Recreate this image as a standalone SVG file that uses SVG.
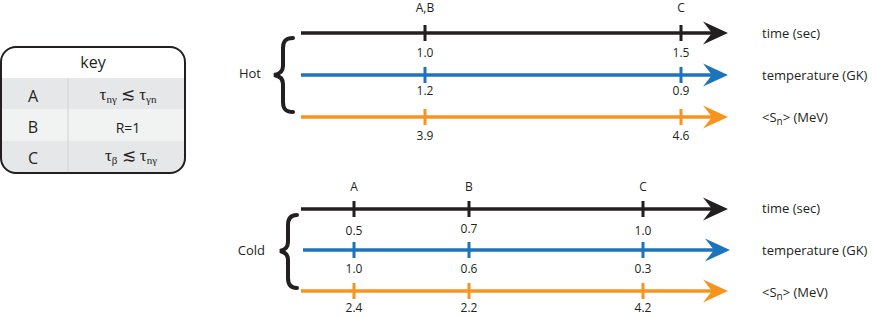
<svg xmlns="http://www.w3.org/2000/svg" width="872" height="317" viewBox="0 0 872 317">
<style>
.t{font-family:"Open Sans","Liberation Sans",sans-serif;fill:#231f20}
.v{font-size:12px;text-anchor:middle}
.l{font-size:12px;text-anchor:middle}
.r{font-size:13px}
.m{font-family:"Liberation Serif","DejaVu Serif",serif;font-size:17px;fill:#231f20;text-anchor:middle}
.k{stroke-width:3.5;fill:none}
.bk{stroke:#231f20}.bl{stroke:#1c75bc}.or{stroke:#f7941d}
.tk{stroke-width:3}
.br{fill:none;stroke:#231f20;stroke-width:4;stroke-linecap:round}
</style>
<defs>
<marker id="aK" viewBox="-13 -12 27 24" refX="0" refY="0" markerWidth="27" markerHeight="24" markerUnits="userSpaceOnUse" orient="auto"><path d="M-12,-11.5 L13,0 L-12,11.5 L-3,0 Z" fill="#231f20"/></marker>
<marker id="aB" viewBox="-13 -12 27 24" refX="0" refY="0" markerWidth="27" markerHeight="24" markerUnits="userSpaceOnUse" orient="auto"><path d="M-12,-11.5 L13,0 L-12,11.5 L-3,0 Z" fill="#1c75bc"/></marker>
<marker id="aO" viewBox="-13 -12 27 24" refX="0" refY="0" markerWidth="27" markerHeight="24" markerUnits="userSpaceOnUse" orient="auto"><path d="M-12,-11.5 L13,0 L-12,11.5 L-3,0 Z" fill="#f7941d"/></marker>
<clipPath id="kc"><rect x="1" y="47" width="184" height="126" rx="15"/></clipPath>
</defs>

<g id="key">
<g clip-path="url(#kc)">
<rect x="1" y="47" width="184" height="126" fill="#fff"/>
<rect x="1" y="78" width="184" height="31" fill="#e6e7e8"/>
<rect x="1" y="109" width="184" height="32" fill="#f1f2f2"/>
<rect x="1" y="141" width="184" height="32" fill="#e6e7e8"/>
<line x1="68" y1="78" x2="68" y2="173" stroke="#d1d3d4" stroke-width="1"/>
</g>
<rect x="1" y="47" width="184" height="126" rx="15" fill="none" stroke="#231f20" stroke-width="2"/>
<text class="t" x="93" y="68" font-size="16" text-anchor="middle">key</text>
<text class="t" x="33" y="102" font-size="16" text-anchor="middle">A</text>
<text class="t" x="33" y="133" font-size="16" text-anchor="middle">B</text>
<text class="t" x="33" y="164" font-size="16" text-anchor="middle">C</text>
<text class="m" x="128" y="100">τ<tspan font-size="11" dy="3">nγ</tspan><tspan dy="-3"> ≲ τ</tspan><tspan font-size="11" dy="3">γn</tspan></text>
<text class="t" x="128" y="133" font-size="14" text-anchor="middle">R=1</text>
<text class="m" x="131" y="161">τ<tspan font-size="11" dy="3">β</tspan><tspan dy="-3"> ≲ τ</tspan><tspan font-size="11" dy="3">nγ</tspan></text>
</g>

<g id="hot">
<text class="t" x="261" y="78" font-size="13" text-anchor="end">Hot</text>
<path class="br" d="M293,38 C285,38 283,42 283,48 L283,66 C283,71 280,74 274,75 C280,76 283,79 283,84 L283,102 C283,108 285,112 293,112"/>
</g>

<g id="cold">
<text class="t" x="265" y="255" font-size="13" text-anchor="end">Cold</text>
<path class="br" d="M297,215 C290,215 288,219 288,225 L288,242 C288,247 285,250 280,251 C285,252 288,255 288,260 L288,278 C288,284 290,288 297,288"/>
</g>

<g id="connectors">
<line class="k bk" x1="301" y1="33" x2="715" y2="33" marker-end="url(#aK)"/>
<line class="k bl" x1="301" y1="75" x2="715" y2="75" marker-end="url(#aB)"/>
<line class="k or" x1="301" y1="117" x2="715" y2="117" marker-end="url(#aO)"/>
<line class="k bk" x1="301" y1="209" x2="715" y2="209" marker-end="url(#aK)"/>
<line class="k bl" x1="303" y1="250" x2="717" y2="250" marker-end="url(#aB)"/>
<line class="k or" x1="301" y1="291" x2="715" y2="291" marker-end="url(#aO)"/>
<g class="tk">
<path class="bk" d="M425,25V41M681,25V41"/>
<path class="bl" d="M425,67V83M681,67V83"/>
<path class="or" d="M425,109V125M681,109V125"/>
<path class="bk" d="M354,201V217M469,201V217M643,201V217"/>
<path class="bl" d="M354,242V258M469,242V258M643,242V258"/>
<path class="or" d="M354,283V299M469,283V299M643,283V299"/>
</g>
</g>

<g id="labels">
<text class="t l" x="425" y="12">A,B</text>
<text class="t l" x="681" y="12">C</text>
<text class="t v" x="425" y="57">1.0</text>
<text class="t v" x="681" y="57">1.5</text>
<text class="t v" x="425" y="95">1.2</text>
<text class="t v" x="681" y="95">0.9</text>
<text class="t v" x="425" y="140">3.9</text>
<text class="t v" x="681" y="140">4.6</text>
<text class="t r" x="762" y="38">time (sec)</text>
<text class="t r" x="762" y="80">temperature (GK)</text>
<text class="t r" x="762" y="122">&lt;S<tspan font-size="10" dy="3">n</tspan><tspan dy="-3">&gt; (MeV)</tspan></text>

<text class="t l" x="354" y="191">A</text>
<text class="t l" x="469" y="191">B</text>
<text class="t l" x="643" y="191">C</text>
<text class="t v" x="354" y="235">0.5</text>
<text class="t v" x="469" y="233">0.7</text>
<text class="t v" x="643" y="235">1.0</text>
<text class="t v" x="354" y="273">1.0</text>
<text class="t v" x="469" y="273">0.6</text>
<text class="t v" x="643" y="273">0.3</text>
<text class="t v" x="354" y="312">2.4</text>
<text class="t v" x="469" y="312">2.2</text>
<text class="t v" x="643" y="312">4.2</text>
<text class="t r" x="762" y="213">time (sec)</text>
<text class="t r" x="762" y="255">temperature (GK)</text>
<text class="t r" x="762" y="297">&lt;S<tspan font-size="10" dy="3">n</tspan><tspan dy="-3">&gt; (MeV)</tspan></text>
</g>
</svg>
